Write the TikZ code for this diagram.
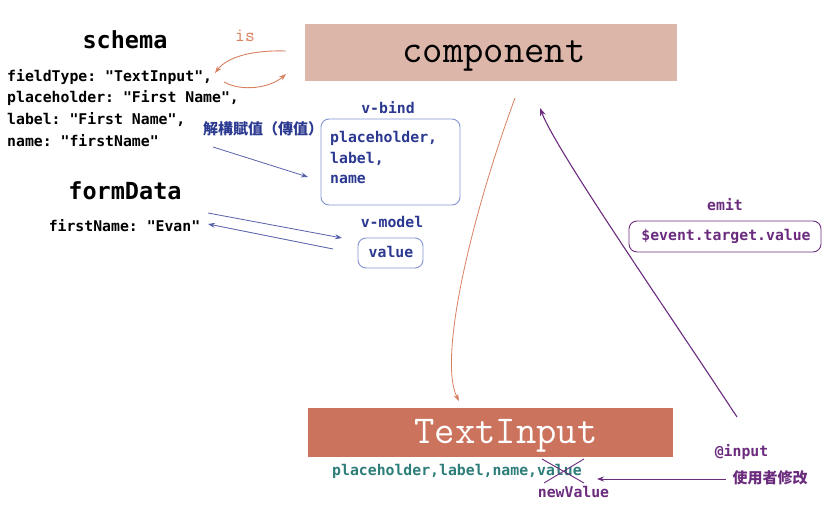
\documentclass[tikz,border=0pt]{standalone}
\usepackage{fontspec}
\setmonofont{DejaVu Sans Mono}
\newfontfamily\cjk{Noto Sans CJK TC}
\newfontfamily\lmono{Latin Modern Mono}
\usetikzlibrary{arrows.meta}
\definecolor{compfill}{HTML}{DDB6AA}
\definecolor{tifill}{HTML}{CC735E}
\definecolor{orng}{HTML}{D8805F}
\definecolor{blu}{HTML}{2B3990}
\definecolor{bluebox}{HTML}{8393D3}
\definecolor{bluarrow}{HTML}{5560A8}
\definecolor{purp}{HTML}{6B2C7E}
\definecolor{teal2}{HTML}{2D7D79}
\begin{document}
\begin{tikzpicture}[x=1pt,y=-1pt,
  code/.style={font=\ttfamily\bfseries\fontsize{14.8}{21.5}\selectfont, inner sep=0pt},
  ttl/.style={font=\ttfamily\bfseries\fontsize{23.5}{26}\selectfont, inner sep=0pt},
  big/.style={font=\lmono\fontsize{39.5}{44}\selectfont, inner sep=0pt},
  cjkt/.style={font=\cjk\bfseries\fontsize{15}{18}\selectfont, inner sep=0pt},
  rbox/.style={draw, rounded corners=8pt, line width=0.9pt, inner sep=0pt},
  oarr/.style={draw=orng, line width=0.9pt, -{Stealth[length=7pt,width=5pt]}},
  barr/.style={draw=bluarrow, line width=0.8pt, -{Stealth[length=7pt,width=5pt]}},
  parr/.style={draw=purp, line width=1.1pt, -{Stealth[length=8pt,width=6pt]}}
]
\useasboundingbox (0,0) rectangle (834,530);

% schema
\node[ttl] (schema) at (125,40) {schema};
\node[code, anchor=west] (s1) at (7,77) {fieldType: "TextInput",};
\node[code, anchor=west] (s2) at (7,98.5) {placeholder: "First Name",};
\node[code, anchor=west] (s3) at (7,120) {label: "First Name",};
\node[code, anchor=west] (s4) at (7,141) {name: "firstName"};

% formData
\node[ttl] (formdata) at (125,191) {formData};
\node[code] (fd1) at (124.5,226) {firstName: "Evan"};

% component
\node[fill=compfill, minimum width=372pt, minimum height=57pt, inner sep=0pt] (comp) at (491,52.5) {};
\node[big] (comptxt) at (494,56) {component};
\node[font=\lmono\fontsize{19}{22}\selectfont, text=orng, inner sep=0pt] (is) at (245,36) {is};
\coordinate (isA) at (286,51);
\coordinate (isB) at (215,73);
\coordinate (isC) at (224,82);
\coordinate (isD) at (286,74);
\draw[oarr] (isA) .. controls (255,50) and (228,56) .. (isB);
\draw[oarr] (isC) .. controls (242,92) and (270,88) .. (isD);

% destructuring
\node[cjkt, text=blu] (destr) at (263,129) {解構賦值（傳值）};
\coordinate (dA) at (213,147);
\coordinate (dB) at (308,177);
\draw[barr] (dA) -- (dB);

% v-bind
\node[code, text=blu] (vbind) at (388,108) {v-bind};
\node[rbox, draw=bluebox, minimum width=139pt, minimum height=86pt] (vbbox) at (390.5,162) {};
\node[code, text=blu, anchor=west] (vb1) at (330,138) {placeholder,};
\node[code, text=blu, anchor=west] (vb2) at (330,158.5) {label,};
\node[code, text=blu, anchor=west] (vb3) at (330,179) {name};

% v-model
\node[code, text=blu] (vmodel) at (392,222) {v-model};
\node[rbox, draw=bluebox, minimum width=65pt, minimum height=30pt] (valbox) at (390.5,253) {};
\node[code, text=blu] (valtxt) at (391,252) {value};
\coordinate (mA) at (208,213);
\coordinate (mB) at (342,238);
\coordinate (mC) at (333,249);
\coordinate (mD) at (208,224);
\draw[barr] (mA) -- (mB);
\draw[barr] (mC) -- (mD);

% emit
\node[code, text=purp] (emit) at (725,205) {emit};
\node[rbox, draw=purp, minimum width=192pt, minimum height=31pt] (evbox) at (725,236.5) {};
\node[code, text=purp] (evtxt) at (726,236) {\$event.target.value};

% TextInput
\node[fill=tifill, minimum width=365pt, minimum height=49pt, inner sep=0pt] (ti) at (490.5,432.5) {};
\node[big, text=white] (titxt) at (506,436) {TextInput};

% curves
\coordinate (oStart) at (515,98);
\coordinate (oEnd) at (459,401);
\draw[oarr, line width=0.8pt] (oStart) .. controls (470,220) and (438,360) .. (oEnd);
\coordinate (pStart) at (737,417);
\coordinate (pEnd) at (540,108);
\draw[parr] (pStart) .. controls (660,300) and (556,150) .. (pEnd);

% bottom texts
\node[code, text=teal2, anchor=west] (props) at (332,471) {placeholder,label,name,value};
\coordinate (x1) at (542,459);
\coordinate (x2) at (584,483);
\coordinate (x3) at (584,459);
\coordinate (x4) at (544,483);
\draw[purp, line width=0.9pt] (x1) -- (x2);
\draw[purp, line width=0.9pt] (x3) -- (x4);
\node[code, text=purp] (newval) at (573.5,492) {newValue};
\node[code, text=purp] (input) at (741.5,452) {@input};
\node[cjkt, text=purp] (user) at (770,478) {使用者修改};
\coordinate (uA) at (726,479);
\coordinate (uB) at (597,479);
\draw[parr, line width=0.9pt, -{Stealth[length=7pt,width=5pt]}] (uA) -- (uB);
\end{tikzpicture}
\end{document}
